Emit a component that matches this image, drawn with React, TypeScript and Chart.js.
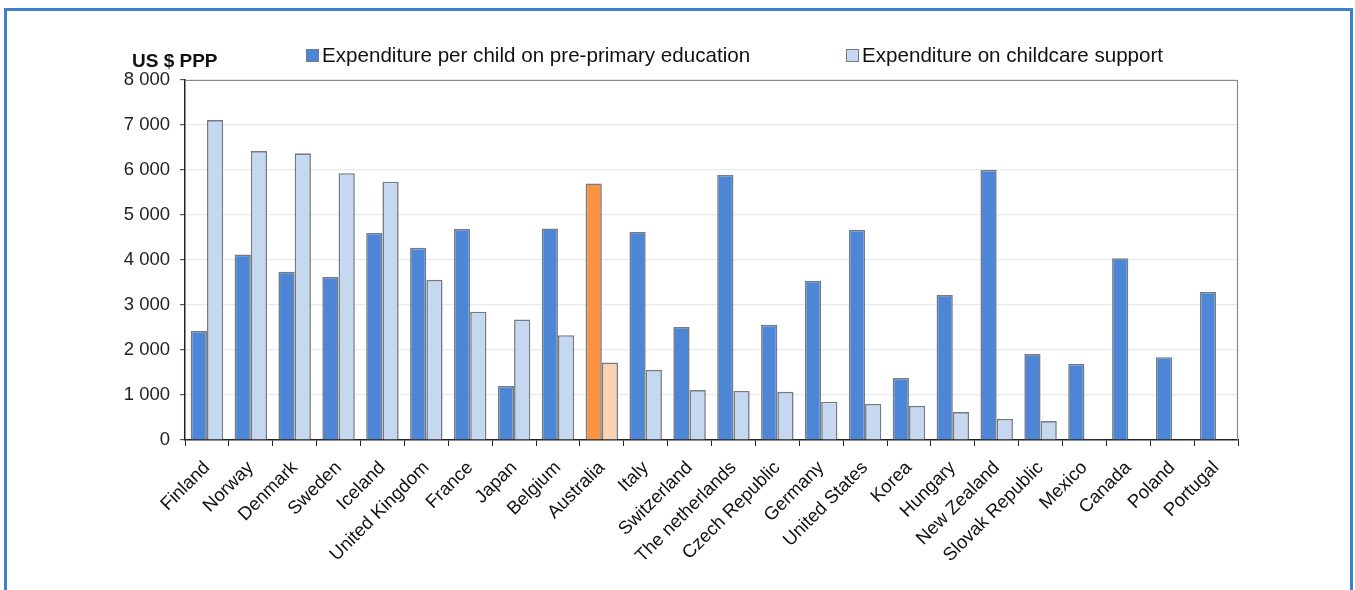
import React, { useEffect, useRef } from "react";
import { Chart, registerables } from "chart.js";

Chart.register(...registerables);

const countries = [
  "Finland", "Norway", "Denmark", "Sweden", "Iceland", "United Kingdom", "France", "Japan",
  "Belgium", "Australia", "Italy", "Switzerland", "The netherlands", "Czech Republic", "Germany",
  "United States", "Korea", "Hungary", "New Zealand", "Slovak Republic", "Mexico", "Canada",
  "Poland", "Portugal",
];

const prePrimary = [
  2420, 4120, 3740, 3620, 4600, 4270, 4690, 1200, 4700, 5700, 4620, 2510, 5890, 2560, 3540,
  4670, 1380, 3220, 6000, 1910, 1690, 4040, 1840, 3290,
];

const childcare = [
  7110, 6420, 6370, 5930, 5740, 3560, 2850, 2680, 2330, 1720, 1560, 1110, 1090, 1070, 850,
  800, 760, 620, 470, 420, 15, 0, 0, 0,
];

const seriesLabels = ["Expenditure per child on pre-primary education", "Expenditure on childcare support"];
const yTicks = [0, 1000, 2000, 3000, 4000, 5000, 6000, 7000, 8000];
const unitLabel = "US $ PPP";
const highlight = "Australia";

const DARK = "#4d86d6";
const LIGHT = "#c6d8f0";
const DARK_HI = "#fb9442";
const LIGHT_HI = "#fcd3b0";
const EDGE = "#737b86";

const fmt = (v: number) => {
  const s = String(Math.round(v));
  return s.replace(/\B(?=(\d{3})+(?!\d))/g, " ");
};

const overlay = {
  id: "overlay",
  afterDraw(chart: any) {
    const ctx = chart.ctx;
    const a = chart.chartArea;
    ctx.save();
    ctx.strokeStyle = "#8a8a8a";
    ctx.lineWidth = 1.2;
    ctx.beginPath();
    ctx.moveTo(a.left, a.top + 0.5);
    ctx.lineTo(a.right - 0.5, a.top + 0.5);
    ctx.lineTo(a.right - 0.5, a.bottom);
    ctx.stroke();
    ctx.fillStyle = "#111";
    ctx.font = "bold 19px 'Liberation Sans', Arial, sans-serif";
    ctx.textBaseline = "alphabetic";
    ctx.textAlign = "left";
    ctx.fillText(unitLabel, 132, 67);
    const items = [
      { x: 306, color: DARK, text: seriesLabels[0] },
      { x: 846, color: LIGHT, text: seriesLabels[1] },
    ];
    ctx.font = "20.6px 'Liberation Sans', Arial, sans-serif";
    items.forEach((it) => {
      ctx.fillStyle = it.color;
      ctx.fillRect(it.x, 49, 13, 13);
      ctx.strokeStyle = EDGE;
      ctx.lineWidth = 1;
      ctx.strokeRect(it.x + 0.5, 49.5, 12, 12);
      ctx.fillStyle = "#111";
      ctx.fillText(it.text, it.x + 16, 62);
    });
    ctx.restore();
  },
};

export default function App() {
  const ref = useRef<HTMLCanvasElement>(null);
  useEffect(() => {
    if (!ref.current) return;
    const hiIdx = countries.indexOf(highlight);
    const chart = new Chart(ref.current, {
      type: "bar",
      data: {
        labels: countries,
        datasets: [
          {
            label: seriesLabels[0],
            data: prePrimary,
            backgroundColor: countries.map((_, i) => (i === hiIdx ? DARK_HI : DARK)),
            borderColor: EDGE,
            borderWidth: 1.6,
            categoryPercentage: 0.74,
            barPercentage: 1.0,
          },
          {
            label: seriesLabels[1],
            data: childcare,
            backgroundColor: countries.map((_, i) => (i === hiIdx ? LIGHT_HI : LIGHT)),
            borderColor: EDGE,
            borderWidth: 1.6,
            categoryPercentage: 0.74,
            barPercentage: 1.0,
          },
        ],
      },
      options: {
        animation: false,
        responsive: false,
        maintainAspectRatio: false,
        layout: { padding: { left: 0, top: 80, right: 117, bottom: 0 } },
        plugins: { legend: { display: false }, tooltip: { enabled: false } },
        scales: {
          x: {
            grid: {
              display: true,
              drawOnChartArea: false,
              offset: true,
              tickLength: 6,
              tickColor: "#222",
            },
            border: { display: true, color: "#222", width: 1.5 },
            ticks: {
              autoSkip: false,
              maxRotation: 45,
              minRotation: 45,
              color: "#111",
              padding: 11,
              font: { family: "'Liberation Sans', Arial, sans-serif", size: 18.5 },
            },
            afterFit: (s: any) => {
              s.height = 150;
            },
          },
          y: {
            min: 0,
            max: 8000,
            afterBuildTicks: (s: any) => {
              s.ticks = yTicks.map((v) => ({ value: v }));
            },
            grid: {
              color: (c: any) => (c.tick && c.tick.value === 0 ? "rgba(0,0,0,0)" : "#e9e9e9"),
              lineWidth: 1.2,
              tickLength: 5,
              tickColor: "#555",
            },
            border: { display: true, color: "#222", width: 1.5 },
            ticks: {
              color: "#222",
              padding: 10,
              callback: (v: any) => fmt(Number(v)),
              font: { family: "'Liberation Sans', Arial, sans-serif", size: 18.5 },
            },
            afterFit: (s: any) => {
              s.width = 185;
            },
          },
        },
      },
      plugins: [overlay],
    });
    return () => chart.destroy();
  }, []);

  return (
    <div
      style={{
        position: "fixed",
        left: 0,
        top: 0,
        width: 1355,
        height: 590,
        overflow: "hidden",
        background: "#fff",
      }}
    >
      <canvas ref={ref} width={1355} height={590} style={{ position: "absolute", left: 0, top: 0 }} />
      <div
        style={{
          position: "absolute",
          left: 4,
          top: 8,
          width: 1343,
          height: 700,
          border: "3px solid #3f7fc5",
          pointerEvents: "none",
        }}
      />
    </div>
  );
}
